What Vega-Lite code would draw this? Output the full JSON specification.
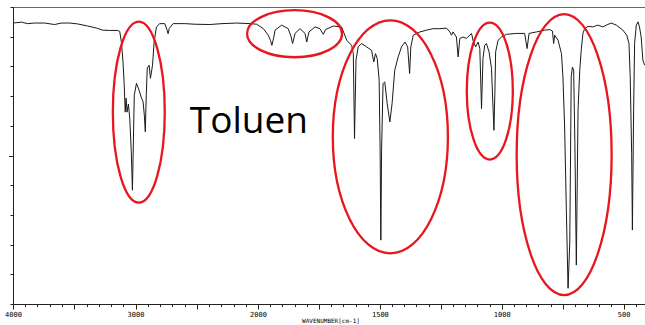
{
  "$schema": "https://vega.github.io/schema/vega-lite/v6.json",
  "width": 632,
  "height": 297,
  "autosize": "none",
  "padding": {"left": 13, "top": 7, "right": 0, "bottom": 21},
  "background": "white",
  "config": {"view": {"stroke": "#666", "strokeWidth": 1}, "axis": {"labelOverlap": false, "labelBound": false}},
  "datasets": {
    "spectrum": [
      {"wn": 4000, "T": 94.6}, {"wn": 3930, "T": 94.9}, {"wn": 3881, "T": 94.4}, {"wn": 3824, "T": 94.6},
      {"wn": 3742, "T": 94.6}, {"wn": 3661, "T": 94.1}, {"wn": 3603, "T": 94.6}, {"wn": 3538, "T": 94.6},
      {"wn": 3472, "T": 94.3}, {"wn": 3391, "T": 93.6}, {"wn": 3317, "T": 92.9}, {"wn": 3268, "T": 92.2},
      {"wn": 3211, "T": 92.1}, {"wn": 3145, "T": 92.1}, {"wn": 3129, "T": 91.8}, {"wn": 3115, "T": 88.2},
      {"wn": 3102, "T": 81.5}, {"wn": 3092, "T": 73.7}, {"wn": 3084, "T": 64.6}, {"wn": 3077, "T": 69.3},
      {"wn": 3069, "T": 64.6}, {"wn": 3058, "T": 67.3}, {"wn": 3047, "T": 62.6}, {"wn": 3035, "T": 51.8},
      {"wn": 3025, "T": 38.3}, {"wn": 3017, "T": 55.2}, {"wn": 3010, "T": 70.3}, {"wn": 2992, "T": 74.3},
      {"wn": 2971, "T": 72.0}, {"wn": 2951, "T": 69.3}, {"wn": 2938, "T": 68.1}, {"wn": 2928, "T": 63.6},
      {"wn": 2920, "T": 58.0}, {"wn": 2912, "T": 70.3}, {"wn": 2904, "T": 79.4}, {"wn": 2889, "T": 80.4},
      {"wn": 2878, "T": 76.0}, {"wn": 2861, "T": 80.4}, {"wn": 2848, "T": 88.2}, {"wn": 2829, "T": 93.3},
      {"wn": 2802, "T": 94.4}, {"wn": 2761, "T": 94.4}, {"wn": 2742, "T": 92.2}, {"wn": 2734, "T": 91.0},
      {"wn": 2724, "T": 92.8}, {"wn": 2693, "T": 94.4}, {"wn": 2597, "T": 94.4}, {"wn": 2515, "T": 94.2},
      {"wn": 2393, "T": 94.1}, {"wn": 2294, "T": 94.4}, {"wn": 2174, "T": 94.6}, {"wn": 2065, "T": 94.4},
      {"wn": 2011, "T": 94.2}, {"wn": 1978, "T": 92.7}, {"wn": 1958, "T": 90.5}, {"wn": 1949, "T": 88.8},
      {"wn": 1943, "T": 87.1}, {"wn": 1936, "T": 89.5}, {"wn": 1930, "T": 92.2}, {"wn": 1903, "T": 93.9},
      {"wn": 1876, "T": 92.7}, {"wn": 1865, "T": 90.2}, {"wn": 1858, "T": 87.7}, {"wn": 1848, "T": 91.1},
      {"wn": 1828, "T": 92.7}, {"wn": 1807, "T": 91.1}, {"wn": 1800, "T": 88.2}, {"wn": 1791, "T": 91.6},
      {"wn": 1766, "T": 93.3}, {"wn": 1746, "T": 92.7}, {"wn": 1732, "T": 90.8}, {"wn": 1723, "T": 92.4},
      {"wn": 1691, "T": 93.6}, {"wn": 1657, "T": 93.3}, {"wn": 1636, "T": 88.8}, {"wn": 1616, "T": 87.1},
      {"wn": 1609, "T": 84.3}, {"wn": 1604, "T": 55.7}, {"wn": 1598, "T": 82.1}, {"wn": 1589, "T": 86.6},
      {"wn": 1575, "T": 87.7}, {"wn": 1555, "T": 86.6}, {"wn": 1534, "T": 85.4}, {"wn": 1525, "T": 81.5},
      {"wn": 1518, "T": 84.3}, {"wn": 1511, "T": 82.7}, {"wn": 1503, "T": 75.4}, {"wn": 1499, "T": 51.8},
      {"wn": 1496, "T": 21.5}, {"wn": 1493, "T": 51.8}, {"wn": 1487, "T": 74.2}, {"wn": 1480, "T": 74.8},
      {"wn": 1470, "T": 67.5}, {"wn": 1459, "T": 61.3}, {"wn": 1450, "T": 67.5}, {"wn": 1439, "T": 78.7},
      {"wn": 1425, "T": 83.2}, {"wn": 1411, "T": 86.6}, {"wn": 1397, "T": 88.2}, {"wn": 1386, "T": 86.6},
      {"wn": 1378, "T": 77.6}, {"wn": 1373, "T": 86.6}, {"wn": 1363, "T": 90.5}, {"wn": 1336, "T": 91.6},
      {"wn": 1309, "T": 92.2}, {"wn": 1282, "T": 92.7}, {"wn": 1254, "T": 92.7}, {"wn": 1227, "T": 92.9},
      {"wn": 1213, "T": 91.6}, {"wn": 1206, "T": 90.5}, {"wn": 1200, "T": 91.6}, {"wn": 1186, "T": 89.9},
      {"wn": 1179, "T": 83.2}, {"wn": 1172, "T": 89.4}, {"wn": 1159, "T": 89.9}, {"wn": 1145, "T": 89.4},
      {"wn": 1124, "T": 91.1}, {"wn": 1118, "T": 88.8}, {"wn": 1107, "T": 86.6}, {"wn": 1097, "T": 88.2},
      {"wn": 1090, "T": 86.0}, {"wn": 1083, "T": 65.8}, {"wn": 1077, "T": 82.7}, {"wn": 1070, "T": 87.1},
      {"wn": 1063, "T": 87.7}, {"wn": 1052, "T": 84.9}, {"wn": 1042, "T": 79.3}, {"wn": 1037, "T": 68.6},
      {"wn": 1032, "T": 58.5}, {"wn": 1028, "T": 72.0}, {"wn": 1025, "T": 84.9}, {"wn": 1015, "T": 88.8},
      {"wn": 1001, "T": 89.9}, {"wn": 981, "T": 90.8}, {"wn": 940, "T": 91.1}, {"wn": 906, "T": 91.1},
      {"wn": 896, "T": 86.0}, {"wn": 888, "T": 91.1}, {"wn": 858, "T": 91.6}, {"wn": 824, "T": 92.2},
      {"wn": 803, "T": 92.4}, {"wn": 792, "T": 91.9}, {"wn": 787, "T": 87.7}, {"wn": 783, "T": 90.5},
      {"wn": 769, "T": 88.8}, {"wn": 755, "T": 84.3}, {"wn": 749, "T": 76.5}, {"wn": 742, "T": 59.6},
      {"wn": 735, "T": 31.6}, {"wn": 728, "T": 5.3}, {"wn": 721, "T": 20.5}, {"wn": 715, "T": 76.5},
      {"wn": 710, "T": 79.8}, {"wn": 705, "T": 78.7}, {"wn": 700, "T": 54.1}, {"wn": 694, "T": 13.1},
      {"wn": 687, "T": 65.3}, {"wn": 680, "T": 78.7}, {"wn": 674, "T": 85.4}, {"wn": 667, "T": 91.1},
      {"wn": 660, "T": 92.7}, {"wn": 646, "T": 93.5}, {"wn": 626, "T": 93.3}, {"wn": 606, "T": 93.9},
      {"wn": 585, "T": 93.3}, {"wn": 571, "T": 93.9}, {"wn": 551, "T": 94.6}, {"wn": 530, "T": 93.9},
      {"wn": 503, "T": 92.2}, {"wn": 487, "T": 90.5}, {"wn": 478, "T": 87.7}, {"wn": 473, "T": 76.5},
      {"wn": 467, "T": 50.7}, {"wn": 464, "T": 24.9}, {"wn": 459, "T": 65.3}, {"wn": 455, "T": 87.7},
      {"wn": 448, "T": 93.9}, {"wn": 441, "T": 95.0}, {"wn": 435, "T": 93.3}, {"wn": 428, "T": 89.9},
      {"wn": 421, "T": 82.1}, {"wn": 414, "T": 80.4}
    ],
    "labels": [{"wn": 2074, "T": 61.2, "text": "Toluen"}],
    "marks": [
      {"group": "CH", "wn": 2973, "T": 64.6},
      {"group": "overtone", "wn": 1850, "T": 91.0},
      {"group": "ring", "wn": 1457, "T": 56.3},
      {"group": "inplane", "wn": 1049, "T": 71.7},
      {"group": "oop", "wn": 744, "T": 50.3}
    ]
  },
  "layer": [
    {
      "data": {"name": "spectrum"},
      "mark": {"type": "line", "color": "#1a1a1a", "strokeWidth": 1, "clip": true, "interpolate": "linear"},
      "encoding": {
        "x": {
          "field": "wn", "type": "quantitative",
          "scale": {"domain": [4000, 2000, 400], "range": [0, 245, 635], "nice": false, "zero": false},
          "axis": {
            "title": "WAVENUMBER[cm-1]",
            "titleFont": "DejaVu Sans Mono", "titleFontSize": 6, "titleFontWeight": "normal", "titlePadding": 0, "titleColor": "#000",
            "values": [4000,3900,3800,3700,3600,3500,3400,3300,3200,3100,3000,2900,2800,2700,2600,2500,2400,2300,2200,2100,2000,1950,1900,1850,1800,1750,1700,1650,1600,1550,1500,1450,1400,1350,1300,1250,1200,1150,1100,1050,1000,950,900,850,800,750,700,650,600,550,500,450],
            "tickCount": 500,
            "format": "d",
            "labelExpr": "(datum.value === 4000 || datum.value === 3000 || datum.value === 2000 || datum.value === 1500 || datum.value === 1000 || datum.value === 500) ? datum.label : ''",
            "labelOverlap": false, "labelFlush": false, "labelSeparation": 0,
            "labelFont": "DejaVu Sans Mono", "labelFontSize": 7, "labelColor": "#000", "labelPadding": 1,
            "tickSize": {"condition": {"test": "datum.value % 500 === 0 || datum.value === 1750 || datum.value === 1250 || datum.value === 750", "value": 5}, "value": 2.5},
            "tickColor": "#222", "domainColor": "#222", "grid": false
          }
        },
        "y": {
          "field": "T", "type": "quantitative",
          "scale": {"domain": [0, 100], "nice": false, "zero": false},
          "axis": {
            "title": null, "labels": false, "grid": false,
            "values": [0,10,20,30,40,50,60,70,80,90,100],
            "tickCount": 100,
            "tickSize": {"condition": {"test": "datum.value === 50", "value": 4.5}, "value": 3},
            "tickColor": "#222", "domainColor": "#222"
          }
        }
      }
    },
    {
      "data": {"name": "labels"},
      "mark": {"type": "text", "font": "Open Sans", "fontSize": 37, "color": "#000", "align": "center", "baseline": "middle"},
      "encoding": {
        "x": {"field": "wn", "type": "quantitative"},
        "y": {"field": "T", "type": "quantitative"},
        "text": {"field": "text"}
      }
    },
    {
      "data": {"name": "marks"},
      "transform": [{"filter": "datum.group === 'CH'"}],
      "mark": {"type": "point", "filled": false, "opacity": 1, "color": "#e8161e", "strokeWidth": 2.3, "size": 32761, "shape": "M -0.287 0 A 0.287 1 0 1 0 0.287 0 A 0.287 1 0 1 0 -0.287 0 Z"},
      "encoding": {"x": {"field": "wn", "type": "quantitative"}, "y": {"field": "T", "type": "quantitative"}}
    },
    {
      "data": {"name": "marks"},
      "transform": [{"filter": "datum.group === 'overtone'"}],
      "mark": {"type": "point", "filled": false, "opacity": 1, "color": "#e8161e", "strokeWidth": 2.3, "size": 9025, "shape": "M -1 0 A 1 0.495 0 1 0 1 0 A 1 0.495 0 1 0 -1 0 Z"},
      "encoding": {"x": {"field": "wn", "type": "quantitative"}, "y": {"field": "T", "type": "quantitative"}}
    },
    {
      "data": {"name": "marks"},
      "transform": [{"filter": "datum.group === 'ring'"}],
      "mark": {"type": "point", "filled": false, "opacity": 1, "color": "#e8161e", "strokeWidth": 2.3, "size": 54289, "shape": "M -0.494 0 A 0.494 1 0 1 0 0.494 0 A 0.494 1 0 1 0 -0.494 0 Z"},
      "encoding": {"x": {"field": "wn", "type": "quantitative"}, "y": {"field": "T", "type": "quantitative"}}
    },
    {
      "data": {"name": "marks"},
      "transform": [{"filter": "datum.group === 'inplane'"}],
      "mark": {"type": "point", "filled": false, "opacity": 1, "color": "#e8161e", "strokeWidth": 2.3, "size": 18769, "shape": "M -0.336 0 A 0.336 1 0 1 0 0.336 0 A 0.336 1 0 1 0 -0.336 0 Z"},
      "encoding": {"x": {"field": "wn", "type": "quantitative"}, "y": {"field": "T", "type": "quantitative"}}
    },
    {
      "data": {"name": "marks"},
      "transform": [{"filter": "datum.group === 'oop'"}],
      "mark": {"type": "point", "filled": false, "opacity": 1, "color": "#e8161e", "strokeWidth": 2.3, "size": 78961, "shape": "M -0.338 0 A 0.338 1 0 1 0 0.338 0 A 0.338 1 0 1 0 -0.338 0 Z"},
      "encoding": {"x": {"field": "wn", "type": "quantitative"}, "y": {"field": "T", "type": "quantitative"}}
    }
  ]
}
